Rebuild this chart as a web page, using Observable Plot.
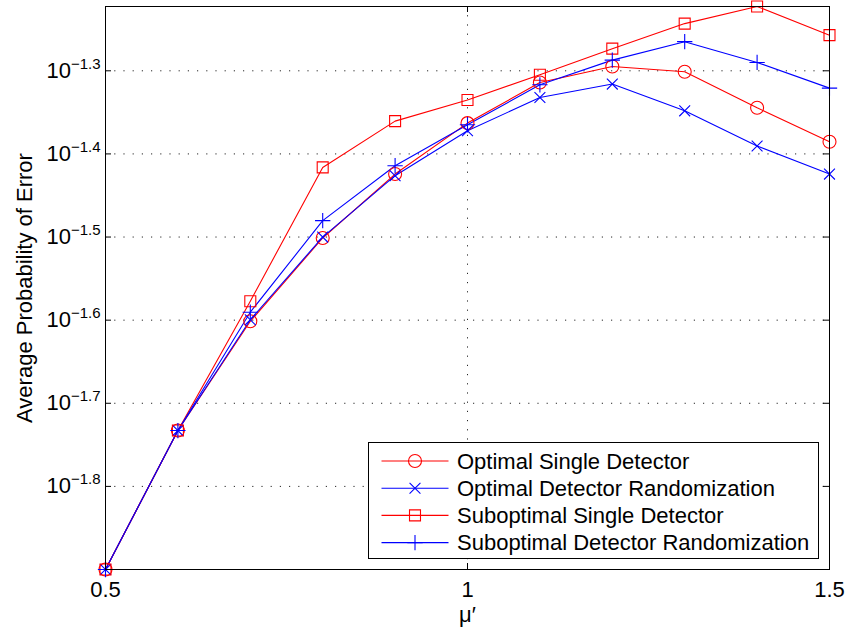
<!DOCTYPE html>
<html><head><meta charset="utf-8">
<script src="https://cdn.jsdelivr.net/npm/d3@7"></script>
<script src="https://cdn.jsdelivr.net/npm/@observablehq/plot@0.6"></script>
<style>
body{margin:0;background:#fff}
#chart svg{font-family:"Liberation Sans",Arial,Helvetica,sans-serif;display:block}
</style>
</head><body><div id="chart"></div>
<script>
// ---- data ----
const mu = [0.5, 0.6, 0.7, 0.8, 0.9, 1.0, 1.1, 1.2, 1.3, 1.4, 1.5];
const optimalSingle      = [0.01259, 0.01850, 0.02504, 0.03154, 0.03765, 0.04336, 0.04852, 0.05072, 0.04998, 0.04524, 0.04118];
const optimalRandom      = [0.01259, 0.01850, 0.02515, 0.03162, 0.03748, 0.04245, 0.04654, 0.04831, 0.04486, 0.04069, 0.03765];
const suboptimalSingle   = [0.01259, 0.01850, 0.02647, 0.03835, 0.04360, 0.04622, 0.04957, 0.05329, 0.05712, 0.05989, 0.05532];
const suboptimalRandom   = [0.01259, 0.01850, 0.02568, 0.03309, 0.03853, 0.04316, 0.04821, 0.05162, 0.05433, 0.05129, 0.04777];
const seriesNames = ["Optimal Single Detector", "Optimal Detector Randomization", "Suboptimal Single Detector", "Suboptimal Detector Randomization"];
const seriesColors = ["#ff0000", "#0000ff", "#ff0000", "#0000ff"];
const seriesSymbols = ["circle", "times", "square", "plus"];
const seriesR = [6.5, 5, 6.2, 5];
const xTicks = [0.5, 1, 1.5];
const xTickLabels = ["0.5", "1", "1.5"];
const yTickExponents = [-1.8, -1.7, -1.6, -1.5, -1.4, -1.3];
const xLabel = "\u03bc\u2032";
const yLabel = "Average Probability of Error";

// ---- build ----
const seriesValues = [optimalSingle, optimalRandom, suboptimalSingle, suboptimalRandom];
const rows = [];
seriesValues.forEach((vals, s) => vals.forEach((v, i) => rows.push({series: seriesNames[s], mu: mu[i], value: v})));
const yTicks = yTickExponents.map(e => Math.pow(10, e));
const expLabel = new Map(yTicks.map((t, i) => [t, "\u2212" + Math.abs(yTickExponents[i]).toFixed(1)]));

const W = 847, H = 632, mL = 105, mR = 18, mT = 6, mB = 63;
const plotW = W - mL - mR, plotH = H - mT - mB, tickLen = 6;
const allVals = rows.map(d => d.value);
const gridStyle = {stroke: "#000", strokeOpacity: 0.85, strokeWidth: 1, strokeDasharray: "1.2,8"};

const marks = [
  Plot.gridY(yTicks, gridStyle),
  Plot.gridX(xTicks, gridStyle),
  Plot.line(rows, {x: "mu", y: "value", z: "series", stroke: "series", strokeWidth: 1.1}),
];
seriesNames.forEach((name, s) => {
  marks.push(Plot.dot(rows.filter(d => d.series === name), {
    x: "mu", y: "value", symbol: () => seriesSymbols[s], r: seriesR[s],
    fill: "none", stroke: seriesColors[s], strokeWidth: 1.1
  }));
});
marks.push(
  Plot.frame({stroke: "#000", strokeWidth: 1}),
  Plot.tickY(yTicks, {y: d => d, insetRight: plotW - tickLen, stroke: "#000"}),
  Plot.tickY(yTicks, {y: d => d, insetLeft: plotW - tickLen, stroke: "#000"}),
  Plot.tickX(xTicks, {x: d => d, insetTop: plotH - tickLen, stroke: "#000"}),
  Plot.tickX(xTicks, {x: d => d, insetBottom: plotH - tickLen, stroke: "#000"}),
  Plot.axisY(yTicks, {tickSize: 0, tickPadding: 5, tickFormat: d => expLabel.get(d), label: null, fontSize: 22}),
  Plot.axisX(xTicks, {tickSize: 0, tickPadding: 12, tickFormat: (d, i) => xTickLabels[i], label: null, fontSize: 22}),
  Plot.text([yLabel], {text: d => d, frameAnchor: "left", dx: -81, rotate: -90, textAnchor: "middle", lineAnchor: "middle", fontSize: 22, fill: "#000"}),
  Plot.text([xLabel], {text: d => d, frameAnchor: "bottom", dy: 45, textAnchor: "middle", lineAnchor: "middle", fontSize: 22, fill: "#000"})
);

const chart = Plot.plot({
  width: W, height: H,
  marginLeft: mL, marginRight: mR, marginTop: mT, marginBottom: mB,
  style: {fontSize: "22px", color: "#000", background: "#fff", overflow: "visible"},
  x: {domain: [0.5, 1.5]},
  y: {type: "log", domain: [d3.min(allVals), d3.max(allVals)]},
  color: {domain: seriesNames, range: seriesColors},
  marks
});
document.getElementById("chart").appendChild(chart);

// ---- superscript tick labels: 10^exp ----
d3.select(chart).selectAll('g[aria-label="y-axis tick label"] text').each(function() {
  const t = d3.select(this);
  const exp = t.text();
  t.text(null);
  t.append("tspan").text("10");
  t.append("tspan").attr("dy", "-0.6em").attr("font-size", "15px").text(exp);
});

// ---- legend box (inside axes, lower right) ----
const boxW = 450, boxH = 116, inset = 11;
const bx = mL + plotW - inset - boxW + 0.5, by = mT + plotH - inset - boxH + 0.5;
const g = d3.select(chart).append("g").attr("aria-label", "legend");
g.append("rect").attr("x", bx).attr("y", by).attr("width", boxW).attr("height", boxH)
  .attr("fill", "#fff").attr("stroke", "#000").attr("stroke-width", 1);
const d3Sym = {circle: d3.symbolCircle, times: d3.symbolTimes, square: d3.symbolSquare, plus: d3.symbolPlus};
seriesNames.forEach((name, s) => {
  const cy = by + 18.5 + s * 27.2;
  g.append("line").attr("x1", bx + 13).attr("x2", bx + 80).attr("y1", cy).attr("y2", cy)
    .attr("stroke", seriesColors[s]).attr("stroke-width", 1.1);
  g.append("path").attr("transform", `translate(${bx + 46.5},${cy})`)
    .attr("d", d3.symbol(d3Sym[seriesSymbols[s]], seriesR[s] * seriesR[s] * Math.PI)())
    .attr("fill", "none").attr("stroke", seriesColors[s]).attr("stroke-width", 1.1);
  g.append("text").attr("x", bx + 88.5).attr("y", cy).attr("dy", "0.35em")
    .attr("text-anchor", "start").attr("font-size", 22).attr("fill", "#000").text(name);
});
</script>
</body></html>
